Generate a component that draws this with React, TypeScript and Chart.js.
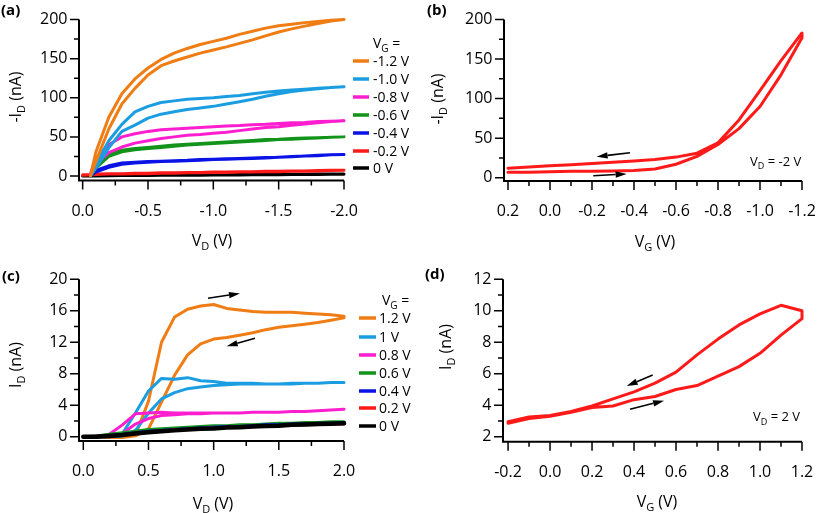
import React, { useEffect, useRef } from "react";
import { Chart, registerables } from "chart.js";

Chart.register(...registerables);

const FONT = '"Open Sans", "Noto Sans", "DejaVu Sans", sans-serif';

const ORANGE = "#F07C14";
const CYAN = "#1B9DE2";
const MAGENTA = "#FF1ECF";
const GREEN = "#12931A";
const BLUE = "#0A12E6";
const RED = "#FF1A1A";
const BLACK = "#000000";

// ---------------- Panel (a): -I_D vs V_D, V_G < 0 ----------------
const aVd = [0, -0.06, -0.1, -0.2, -0.3, -0.4, -0.5, -0.6, -0.7, -0.8, -0.9, -1.0, -1.1, -1.2, -1.3, -1.4, -1.5, -1.6, -1.7, -1.8, -1.9, -2.0];
const aOrangeFwd = [null, 0, 18, 60, 92, 112, 129, 141, 147, 152, 157, 161, 165, 169.5, 174, 179, 184, 188, 191.5, 195, 198, 200];
const aOrangeBwd = [null, 0, 30, 75, 105, 124, 138, 149, 157, 163, 168, 172, 176, 181, 185, 189, 192, 194, 196, 197.5, 199, 200];
const aCyanFwd = [null, 0, 10, 36, 57, 65, 74, 79, 82, 85, 87, 89, 92, 95, 98, 102, 105, 108, 110, 111.5, 113, 114];
const aCyanBwd = [null, 0, 15, 45, 66, 82, 89, 94, 96, 98, 99, 100, 101.5, 103, 105, 107, 108.5, 110, 111, 112, 113, 114];
const aMagentaFwd = [null, 2, 15, 30, 37, 42, 45, 48, 50, 52, 53, 54.5, 56, 58, 60, 62, 63, 65, 66.5, 68, 69.5, 70.5];
const aMagentaBwd = [null, 3, 22, 40, 50, 54, 57, 59, 60, 61, 62, 63, 64, 64.5, 65.5, 66, 67, 68, 68.5, 69.5, 70, 70.5];
const aGreenFwd = [null, 0, 10, 25, 31, 33.5, 35, 36.5, 38, 39.5, 40.5, 41.5, 42.5, 43.5, 44.5, 45.5, 46.5, 47, 48, 48.5, 49.5, 50];
const aGreenBwd = [null, 0, 13, 28, 33, 35, 36.5, 38, 39.5, 40.5, 41.5, 42.5, 43.5, 44.5, 45.5, 46.5, 47, 48, 48.5, 49, 49.5, 50];
const aBlueFwd = [null, 0, 5, 11, 15, 16.5, 17.5, 18.5, 19, 19.5, 20, 21, 21.5, 22, 22.5, 23, 24, 24.5, 25.5, 26, 27, 27.5];
const aBlueBwd = [null, 0, 7, 13, 16.5, 17.5, 18.5, 19, 19.5, 20, 21, 21.5, 22, 22.5, 23, 23.5, 24, 25, 25.5, 26.5, 27, 27.5];
const aRedFwd = [1, 1.5, 2, 2.5, 2.5, 3, 3, 3.5, 3.5, 4, 4, 4.5, 4.5, 5, 5, 5.5, 5.5, 6, 6, 6.5, 7, 7.5];
const aRedBwd = [1.5, 2, 2.5, 3, 3, 3.5, 3.5, 4, 4, 4.5, 4.5, 5, 5, 5.5, 5.5, 6, 6, 6.5, 6.5, 7, 7.5, 7.5];
const aBlackFwd = [0, 0, 0, 0.3, 0.5, 0.6, 0.7, 0.8, 0.9, 1.0, 1.1, 1.2, 1.3, 1.4, 1.5, 1.6, 1.7, 1.8, 1.9, 2.0, 2.1, 2.2];
const aBlackBwd = [0, 0.3, 0.5, 0.7, 0.9, 1.0, 1.1, 1.2, 1.3, 1.4, 1.5, 1.6, 1.7, 1.8, 1.9, 2.0, 2.1, 2.2, 2.3, 2.4, 2.5, 2.5];
const aLegendLabels = ["-1.2 V", "-1.0 V", "-0.8 V", "-0.6 V", "-0.4 V", "-0.2 V", "0 V"];
const aXTicks = [0, -0.5, -1, -1.5, -2];
const aXTickLabels = ["0.0", "-0.5", "-1.0", "-1.5", "-2.0"];
const aXMinor = [-0.25, -0.75, -1.25, -1.75];
const aYTicks = [0, 50, 100, 150, 200];
const aYTickLabels = ["0", "50", "100", "150", "200"];
const aYMinor = [25, 75, 125, 175];

// ---------------- Panel (b): -I_D vs V_G at V_D = -2 V ----------------
const bVg = [0.2, 0.1, 0.0, -0.1, -0.2, -0.3, -0.4, -0.5, -0.6, -0.7, -0.8, -0.9, -1.0, -1.1, -1.2];
const bFwd = [7, 7, 7.5, 8, 8, 8.5, 9, 11, 17, 27, 42, 62, 90, 130, 177];
const bBwd = [12, 13.5, 15, 16.5, 18, 19.5, 21, 23, 26, 31, 44, 73, 110, 148, 183];
const bXTicks = [0.2, 0, -0.2, -0.4, -0.6, -0.8, -1.0, -1.2];
const bXTickLabels = ["0.2", "0.0", "-0.2", "-0.4", "-0.6", "-0.8", "-1.0", "-1.2"];
const bXMinor = [0.1, -0.1, -0.3, -0.5, -0.7, -0.9, -1.1];
const bYTicks = [0, 50, 100, 150, 200];
const bYTickLabels = ["0", "50", "100", "150", "200"];
const bYMinor = [25, 75, 125, 175];
const bArrowBack = [[-0.381, 31.6], [-0.222, 26.5]];
const bArrowFwd = [[-0.206, 2.5], [-0.365, 4.7]];

// ---------------- Panel (c): I_D vs V_D, V_G > 0 ----------------
const cVd = [0, 0.1, 0.2, 0.3, 0.4, 0.5, 0.6, 0.7, 0.8, 0.9, 1.0, 1.1, 1.2, 1.3, 1.4, 1.5, 1.6, 1.7, 1.8, 1.9, 2.0];
const cOrangeFwd = [0, 0, -0.1, -0.1, 0.2, 4.5, 12, 15.2, 16.2, 16.6, 16.8, 16.3, 16.1, 15.9, 15.8, 15.8, 15.8, 15.7, 15.6, 15.5, 15.3];
const cOrangeBwd = [0, 0, -0.1, -0.1, 0.1, 1.0, 4.4, 7.8, 10.4, 11.8, 12.4, 12.6, 12.9, 13.2, 13.6, 13.9, 14.1, 14.3, 14.5, 14.8, 15.1];
const cCyanFwd = [0, 0, 0.1, 0.4, 3.0, 5.8, 7.4, 7.3, 7.5, 7.1, 7.0, 6.8, 6.8, 6.8, 6.7, 6.7, 6.7, 6.8, 6.8, 6.9, 6.9];
const cCyanBwd = [0, 0, 0, 0.1, 0.8, 3.0, 4.8, 5.6, 6.1, 6.3, 6.5, 6.6, 6.7, 6.7, 6.7, 6.7, 6.8, 6.8, 6.8, 6.9, 6.9];
const cMagentaFwd = [0, 0, 0.3, 1.5, 2.9, 3.0, 3.1, 3.0, 3.0, 3.0, 3.0, 3.0, 3.0, 3.1, 3.1, 3.1, 3.2, 3.2, 3.3, 3.4, 3.5];
const cMagentaBwd = [0, 0, 0.1, 0.4, 1.6, 2.3, 2.7, 2.8, 2.9, 2.9, 3.0, 3.0, 3.0, 3.1, 3.1, 3.1, 3.2, 3.2, 3.3, 3.4, 3.5];
const cGreen = [0, 0.1, 0.3, 0.5, 0.7, 0.9, 1.0, 1.1, 1.2, 1.3, 1.4, 1.4, 1.5, 1.5, 1.6, 1.7, 1.7, 1.8, 1.8, 1.9, 1.9];
const cBlue = [0, 0.05, 0.15, 0.3, 0.5, 0.7, 0.8, 0.9, 1.0, 1.1, 1.2, 1.3, 1.3, 1.4, 1.5, 1.5, 1.6, 1.6, 1.7, 1.7, 1.8];
const cRed = [0, 0.05, 0.1, 0.25, 0.4, 0.6, 0.75, 0.85, 0.95, 1.05, 1.1, 1.2, 1.2, 1.3, 1.35, 1.4, 1.45, 1.5, 1.55, 1.6, 1.6];
const cBlack = [0, 0, 0.1, 0.2, 0.4, 0.55, 0.7, 0.8, 0.9, 1.0, 1.05, 1.15, 1.2, 1.3, 1.35, 1.4, 1.5, 1.55, 1.6, 1.65, 1.7];
const cLegendLabels = ["1.2 V", "1 V", "0.8 V", "0.6 V", "0.4 V", "0.2 V", "0 V"];
const cXTicks = [0, 0.5, 1.0, 1.5, 2.0];
const cXTickLabels = ["0.0", "0.5", "1.0", "1.5", "2.0"];
const cXMinor = [0.25, 0.75, 1.25, 1.75];
const cYTicks = [0, 4, 8, 12, 16, 20];
const cYTickLabels = ["0", "4", "8", "12", "16", "20"];
const cYMinor = [2, 6, 10, 14, 18];
const cArrowFwd = [[0.957, 17.6], [1.202, 18.2]];
const cArrowBack = [[1.317, 12.5], [1.1, 11.5]];

// ---------------- Panel (d): I_D vs V_G at V_D = 2 V ----------------
const dVg = [-0.2, -0.1, 0.0, 0.1, 0.2, 0.3, 0.4, 0.5, 0.6, 0.7, 0.8, 0.9, 1.0, 1.1, 1.2];
const dFwd = [2.85, 3.15, 3.3, 3.55, 3.85, 3.95, 4.35, 4.55, 5.0, 5.25, 5.85, 6.45, 7.3, 8.45, 9.5];
const dBwd = [2.95, 3.25, 3.35, 3.6, 3.95, 4.4, 4.85, 5.4, 6.1, 7.2, 8.2, 9.1, 9.8, 10.35, 10.0];
const dXTicks = [-0.2, 0, 0.2, 0.4, 0.6, 0.8, 1.0, 1.2];
const dXTickLabels = ["-0.2", "0.0", "0.2", "0.4", "0.6", "0.8", "1.0", "1.2"];
const dXMinor = [-0.1, 0.1, 0.3, 0.5, 0.7, 0.9, 1.1];
const dYTicks = [2, 4, 6, 8, 10, 12];
const dYTickLabels = ["2", "4", "6", "8", "10", "12"];
const dYMinor = [3, 5, 7, 9, 11];
const dArrowBack = [[0.489, 5.92], [0.365, 5.22]];
const dArrowFwd = [[0.381, 3.74], [0.543, 4.29]];

const legendColors = [ORANGE, CYAN, MAGENTA, GREEN, BLUE, RED, BLACK];

// ---------------- helpers ----------------
type Pt = { x: number; y: number | null };

function loopPoints(xs: number[], fwd: (number | null)[], bwd: (number | null)[]): Pt[] {
  const pts: Pt[] = xs.map((x, i) => ({ x, y: fwd[i] }));
  for (let i = xs.length - 1; i >= 0; i--) pts.push({ x: xs[i], y: bwd[i] });
  return pts;
}
function linePoints(xs: number[], ys: (number | null)[]): Pt[] {
  return xs.map((x, i) => ({ x, y: ys[i] }));
}
function ds(data: Pt[], color: string, width = 3) {
  return {
    data,
    borderColor: color,
    backgroundColor: color,
    borderWidth: width,
    pointRadius: 0,
    fill: false,
    tension: 0,
    clip: false,
    spanGaps: false,
    borderJoinStyle: "round",
    borderCapStyle: "round",
  };
}

type Part = [string, boolean];

function drawRich(ctx: CanvasRenderingContext2D, parts: Part[], x: number, y: number, size: number, subSize: number, align: "left" | "center" = "left", weight = "") {
  ctx.textAlign = "left";
  ctx.textBaseline = "alphabetic";
  let total = 0;
  for (const [t, sub] of parts) {
    ctx.font = `${weight} ${sub ? subSize : size}px ${FONT}`;
    total += ctx.measureText(t).width;
  }
  let cx = align === "center" ? x - total / 2 : x;
  for (const [t, sub] of parts) {
    ctx.font = `${weight} ${sub ? subSize : size}px ${FONT}`;
    ctx.fillText(t, cx, sub ? y + size * 0.27 : y);
    cx += ctx.measureText(t).width;
  }
}

function drawArrow(ctx: CanvasRenderingContext2D, x1: number, y1: number, x2: number, y2: number) {
  const ang = Math.atan2(y2 - y1, x2 - x1);
  const hl = 11, hw = 3.2;
  const bx = x2 - hl * Math.cos(ang), by = y2 - hl * Math.sin(ang);
  ctx.strokeStyle = "#000";
  ctx.fillStyle = "#000";
  ctx.lineWidth = 1.6;
  ctx.beginPath();
  ctx.moveTo(x1, y1);
  ctx.lineTo(bx, by);
  ctx.stroke();
  ctx.beginPath();
  ctx.moveTo(x2, y2);
  ctx.lineTo(bx + hw * Math.sin(ang), by - hw * Math.cos(ang));
  ctx.lineTo(bx - hw * Math.sin(ang), by + hw * Math.cos(ang));
  ctx.closePath();
  ctx.fill();
}

function drawLegend(ctx: CanvasRenderingContext2D, titleX: number, titleY: number, lx1: number, lx2: number, tx: number, ys: number[], labels: string[]) {
  ctx.fillStyle = "#000";
  drawRich(ctx, [["V", false], ["G", true], [" =", false]], titleX, titleY + 5, 14, 10);
  labels.forEach((lab, i) => {
    ctx.strokeStyle = legendColors[i];
    ctx.lineWidth = 3.5;
    ctx.lineCap = "butt";
    ctx.beginPath();
    ctx.moveTo(lx1, ys[i]);
    ctx.lineTo(lx2, ys[i]);
    ctx.stroke();
    ctx.fillStyle = "#000";
    ctx.font = `14px ${FONT}`;
    ctx.textAlign = "left";
    ctx.textBaseline = "alphabetic";
    ctx.fillText(lab, tx, ys[i] + 5);
  });
}

interface Spec {
  ox: number; oy: number; w: number; h: number;
  area: { left: number; top: number; right: number; bottom: number };
  xMin: number; xMax: number; reverse: boolean;
  yMin: number; yMax: number;
  xTicks: number[]; xTickLabels: string[]; xMinor: number[];
  yTicks: number[]; yTickLabels: string[]; yMinor: number[];
  datasets: any[];
  arrows: number[][][];
  decor: (ctx: CanvasRenderingContext2D) => void;
}

function drawAxes(chart: any, spec: Spec) {
  const ctx: CanvasRenderingContext2D = chart.ctx;
  const xs = chart.scales.x, ys = chart.scales.y, a = chart.chartArea;
  const MAJ = 9, MIN = 5;
  ctx.save();
  ctx.strokeStyle = "#000";
  ctx.lineCap = "butt";
  // axis lines
  ctx.lineWidth = 2;
  ctx.beginPath();
  ctx.moveTo(a.left, a.top);
  ctx.lineTo(a.left, a.bottom + 1);
  ctx.moveTo(a.left - 1, a.bottom);
  ctx.lineTo(a.right, a.bottom);
  ctx.stroke();
  // tick marks
  ctx.lineWidth = 1.5;
  ctx.beginPath();
  spec.xTicks.forEach((v) => { const p = xs.getPixelForValue(v); ctx.moveTo(p, a.bottom); ctx.lineTo(p, a.bottom + MAJ); });
  spec.xMinor.forEach((v) => { const p = xs.getPixelForValue(v); ctx.moveTo(p, a.bottom); ctx.lineTo(p, a.bottom + MIN); });
  spec.yTicks.forEach((v) => { const p = ys.getPixelForValue(v); ctx.moveTo(a.left, p); ctx.lineTo(a.left - MAJ, p); });
  spec.yMinor.forEach((v) => { const p = ys.getPixelForValue(v); ctx.moveTo(a.left, p); ctx.lineTo(a.left - MIN, p); });
  ctx.stroke();
  // tick labels
  ctx.fillStyle = "#000";
  ctx.font = `16px ${FONT}`;
  ctx.textAlign = "center";
  ctx.textBaseline = "middle";
  spec.xTicks.forEach((v, i) => ctx.fillText(spec.xTickLabels[i], xs.getPixelForValue(v), a.bottom + 30.5));
  ctx.textAlign = "right";
  spec.yTicks.forEach((v, i) => ctx.fillText(spec.yTickLabels[i], a.left - 11.5, ys.getPixelForValue(v)));
  // arrows
  spec.arrows.forEach((ar) => {
    drawArrow(ctx, xs.getPixelForValue(ar[0][0]), ys.getPixelForValue(ar[0][1]), xs.getPixelForValue(ar[1][0]), ys.getPixelForValue(ar[1][1]));
  });
  // page-coordinate decorations
  ctx.translate(-spec.ox, -spec.oy);
  ctx.fillStyle = "#000";
  spec.decor(ctx);
  ctx.restore();
}

function yTitle(ctx: CanvasRenderingContext2D, parts: Part[], bx: number, cy: number) {
  ctx.save();
  ctx.translate(bx, cy);
  ctx.rotate(-Math.PI / 2);
  ctx.fillStyle = "#000";
  drawRich(ctx, parts, 0, 0, 16, 11, "center");
  ctx.restore();
}

function panelLabel(ctx: CanvasRenderingContext2D, t: string, x: number, y: number) {
  ctx.fillStyle = "#000";
  ctx.font = `bold 15px ${FONT}`;
  ctx.textAlign = "left";
  ctx.textBaseline = "alphabetic";
  ctx.fillText(t, x, y);
}

const specs: Spec[] = [
  {
    ox: 0, oy: 0, w: 440, h: 256,
    area: { left: 79, top: 19.5, right: 344, bottom: 180.5 },
    xMin: -2.0, xMax: 0.028, reverse: true, yMin: -5.75, yMax: 200,
    xTicks: aXTicks, xTickLabels: aXTickLabels, xMinor: aXMinor,
    yTicks: aYTicks, yTickLabels: aYTickLabels, yMinor: aYMinor,
    datasets: [
      ds(loopPoints(aVd, aOrangeFwd, aOrangeBwd), ORANGE),
      ds(loopPoints(aVd, aCyanFwd, aCyanBwd), CYAN),
      ds(loopPoints(aVd, aMagentaFwd, aMagentaBwd), MAGENTA),
      ds(loopPoints(aVd, aGreenFwd, aGreenBwd), GREEN),
      ds(loopPoints(aVd, aBlueFwd, aBlueBwd), BLUE),
      ds(loopPoints(aVd, aRedFwd, aRedBwd), RED),
      ds(loopPoints(aVd, aBlackFwd, aBlackBwd), BLACK),
    ],
    arrows: [],
    decor: (ctx) => {
      panelLabel(ctx, "(a)", 1, 15);
      yTitle(ctx, [["-I", false], ["D", true], [" (nA)", false]], 21, 97);
      ctx.fillStyle = "#000";
      drawRich(ctx, [["V", false], ["D", true], [" (V)", false]], 212, 246, 16, 11, "center");
      drawLegend(ctx, 373, 43, 353, 369, 373, [61, 79, 97, 115, 133, 151, 168], aLegendLabels);
    },
  },
  {
    ox: 408, oy: 0, w: 409, h: 256,
    area: { left: 96, top: 19.5, right: 394, bottom: 181 },
    xMin: -1.2, xMax: 0.219, reverse: true, yMin: -4.2, yMax: 200,
    xTicks: bXTicks, xTickLabels: bXTickLabels, xMinor: bXMinor,
    yTicks: bYTicks, yTickLabels: bYTickLabels, yMinor: bYMinor,
    datasets: [ds(loopPoints(bVg, bFwd, bBwd), RED)],
    arrows: [bArrowBack, bArrowFwd],
    decor: (ctx) => {
      panelLabel(ctx, "(b)", 427, 15);
      yTitle(ctx, [["-I", false], ["D", true], [" (nA)", false]], 443, 99);
      ctx.fillStyle = "#000";
      drawRich(ctx, [["V", false], ["G", true], [" (V)", false]], 655, 247, 16, 11, "center");
      drawRich(ctx, [["V", false], ["D", true], [" = -2 V", false]], 750, 165.5, 13, 9);
    },
  },
  {
    ox: 0, oy: 256, w: 440, h: 257,
    area: { left: 79, top: 23.3, right: 344, bottom: 185 },
    xMin: -0.033, xMax: 2.0, reverse: false, yMin: -0.55, yMax: 20,
    xTicks: cXTicks, xTickLabels: cXTickLabels, xMinor: cXMinor,
    yTicks: cYTicks, yTickLabels: cYTickLabels, yMinor: cYMinor,
    datasets: [
      ds(linePoints(cVd, cBlack), BLACK, 4.5),
      ds(linePoints(cVd, cRed), RED),
      ds(linePoints(cVd, cBlue), BLUE),
      ds(linePoints(cVd, cGreen), GREEN),
      ds(loopPoints(cVd, cMagentaFwd, cMagentaBwd), MAGENTA),
      ds(loopPoints(cVd, cCyanFwd, cCyanBwd), CYAN),
      ds(loopPoints(cVd, cOrangeFwd, cOrangeBwd), ORANGE),
    ],
    arrows: [cArrowFwd, cArrowBack],
    decor: (ctx) => {
      panelLabel(ctx, "(c)", 2, 281);
      yTitle(ctx, [["I", false], ["D", true], [" (nA)", false]], 21, 365);
      ctx.fillStyle = "#000";
      drawRich(ctx, [["V", false], ["D", true], [" (V)", false]], 213, 509, 16, 11, "center");
      drawLegend(ctx, 382, 300, 359, 376, 379, [318, 337, 355, 373, 391, 408, 426], cLegendLabels);
    },
  },
  {
    ox: 408, oy: 256, w: 409, h: 257,
    area: { left: 95, top: 23.3, right: 394, bottom: 185.7 },
    xMin: -0.224, xMax: 1.2, reverse: false, yMin: 1.68, yMax: 12,
    xTicks: dXTicks, xTickLabels: dXTickLabels, xMinor: dXMinor,
    yTicks: dYTicks, yTickLabels: dYTickLabels, yMinor: dYMinor,
    datasets: [ds(loopPoints(dVg, dFwd, dBwd), RED)],
    arrows: [dArrowBack, dArrowFwd],
    decor: (ctx) => {
      panelLabel(ctx, "(d)", 425, 279);
      yTitle(ctx, [["I", false], ["D", true], [" (nA)", false]], 451, 347);
      ctx.fillStyle = "#000";
      drawRich(ctx, [["V", false], ["G", true], [" (V)", false]], 657, 507, 16, 11, "center");
      drawRich(ctx, [["V", false], ["D", true], [" = 2 V", false]], 753, 421, 13, 9);
    },
  },
];

function buildConfig(spec: Spec): any {
  return {
    type: "line",
    data: { datasets: spec.datasets },
    options: {
      responsive: false,
      maintainAspectRatio: false,
      animation: false,
      devicePixelRatio: 1,
      events: [],
      parsing: true,
      layout: { padding: { left: 0, top: spec.area.top, right: spec.w - spec.area.right, bottom: 0 } },
      plugins: { legend: { display: false }, tooltip: { enabled: false }, title: { display: false } },
      scales: {
        x: {
          type: "linear", position: "bottom", min: spec.xMin, max: spec.xMax, reverse: spec.reverse, bounds: "data",
          grid: { display: false, drawTicks: false }, border: { display: false },
          ticks: { display: false },
          afterFit: (s: any) => { s.height = spec.h - spec.area.bottom; },
        },
        y: {
          type: "linear", position: "left", min: spec.yMin, max: spec.yMax, bounds: "data",
          grid: { display: false, drawTicks: false }, border: { display: false },
          ticks: { display: false },
          afterFit: (s: any) => { s.width = spec.area.left; },
        },
      },
    },
    plugins: [{ id: "decor", afterDraw: (chart: any) => drawAxes(chart, spec) }],
  };
}

function PanelChart({ spec }: { spec: Spec }) {
  const ref = useRef<HTMLCanvasElement>(null);
  useEffect(() => {
    const chart = new Chart(ref.current as HTMLCanvasElement, buildConfig(spec));
    return () => chart.destroy();
  }, [spec]);
  return (
    <canvas
      ref={ref}
      width={spec.w}
      height={spec.h}
      style={{ position: "absolute", left: spec.ox, top: spec.oy, width: spec.w, height: spec.h, display: "block" }}
    />
  );
}

export default function App() {
  return (
    <div style={{ position: "fixed", left: 0, top: 0, width: 817, height: 513, background: "#fff", overflow: "hidden" }}>
      {specs.map((s, i) => (
        <PanelChart key={i} spec={s} />
      ))}
    </div>
  );
}
